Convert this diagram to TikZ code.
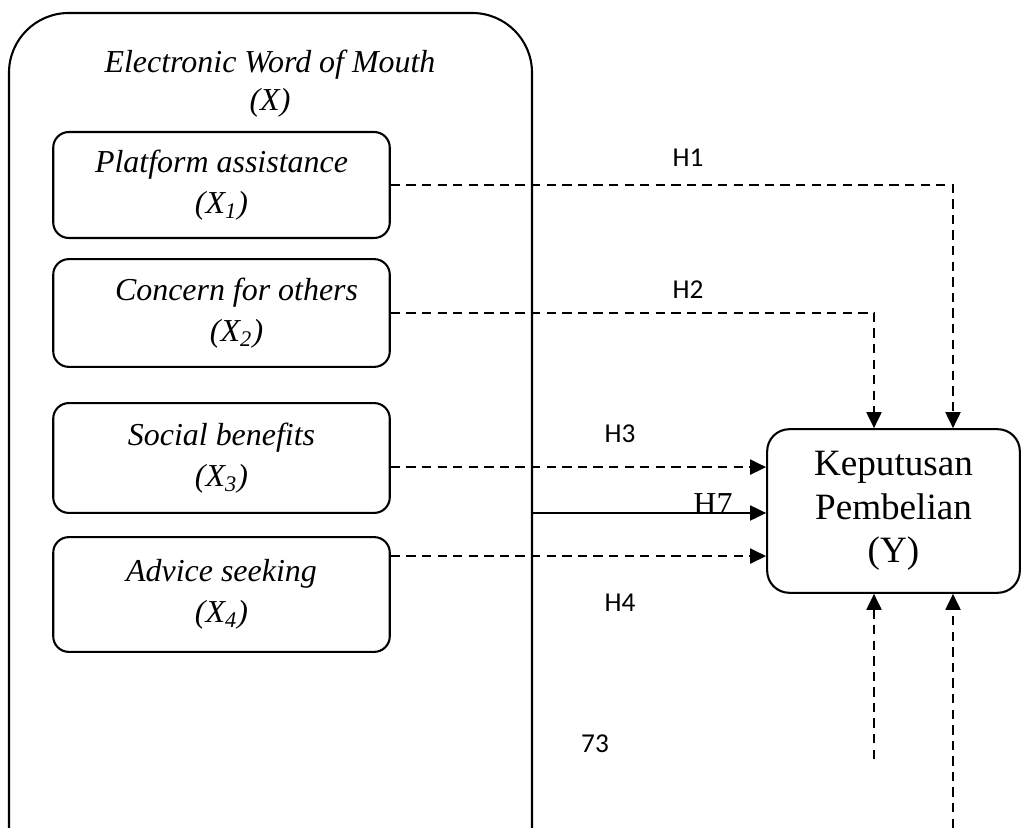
\documentclass[tikz,border=0pt]{standalone}
\usepackage{fontspec}
\setmainfont{Liberation Serif}
\newfontfamily\calibri{Carlito}
\usetikzlibrary{arrows.meta}

\begin{document}
\begin{tikzpicture}[x=0.01353cm,y=-0.01353cm]
        \tikzset{varbox/.style={draw,rounded corners=6pt,line width=0.8pt,
                minimum width=129.6pt,align=center,
                font=\fontsize{12.3}{16}\selectfont\itshape},
            ybox/.style={draw,rounded corners=8.5pt,line width=0.8pt,
                minimum width=97.3pt,minimum height=63pt,align=center,
                font=\fontsize{14.3}{16.7}\selectfont},
            hlabel/.style={font=\calibri\fontsize{10.5}{12}\selectfont},
            hdash/.style={draw,line width=0.8pt,dash pattern=on 3.6pt off 2.4pt,
                -{Triangle[length=6.2pt,width=5.8pt]}},
            hline/.style={draw,line width=0.8pt,-{Triangle[length=6.2pt,width=5.8pt]}}}
        \useasboundingbox (0,0) rectangle (1022,828);
        \draw[line width=0.8pt,rounded corners=23pt] (9,828) -- (9,13) -- (532,13) -- (532,828);
        \node[font=\fontsize{12.3}{14.6}\selectfont\itshape,align=center] (ewom) at (270,84)
            {Electronic Word of Mouth\\(X)};
        \node[varbox,minimum height=40.8pt] (x1) at (221.5,185)
            {Platform assistance\\(X\textsubscript{1})};
        \node[varbox,minimum height=41.5pt] (x2) at (221.5,313)
            {\hspace*{11.6pt}Concern for others\\\hspace*{11.6pt}(X\textsubscript{2})};
        \node[varbox,minimum height=42.3pt] (x3) at (221.5,458)
            {Social benefits\\(X\textsubscript{3})};
        \node[varbox,minimum height=44.2pt] (x4) at (221.5,594.5)
            {Advice seeking\\(X\textsubscript{4})};
        \node[ybox] (y) at (893.5,511) {Keputusan\\Pembelian\\(Y)};
        \coordinate (ewomR) at (532,513);
        \coordinate (b1) at (874,759);
        \coordinate (b2) at (953,828);
        \draw[hdash] (x1.east) -| (b2 |- y.north);
        \draw[hdash] (x2.east) -| (b1 |- y.north);
        \draw[hdash] ([yshift=-3.5pt]x3.east) -- ([yshift=-3.5pt]x3.east -| y.west);
        \draw[hline] (ewomR) -- (ewomR -| y.west);
        \draw[hdash] ([yshift=14.8pt]x4.east) -- ([yshift=14.8pt]x4.east -| y.west);
        \draw[hdash] (b1) -- (b1 |- y.south);
        \draw[hdash] (b2) -- (b2 |- y.south);
        \node[hlabel] (h1) at (688,158) {H1};
        \node[hlabel] (h2) at (688,290) {H2};
        \node[hlabel] (h3) at (620,434) {H3};
        \node[hlabel] (h4) at (620,603) {H4};
        \node[font=\fontsize{12.3}{14}\selectfont] (h7) at (713,504) {H7};
        \node[hlabel] (pg) at (595,744) {73};
    \end{tikzpicture}
\end{document}
